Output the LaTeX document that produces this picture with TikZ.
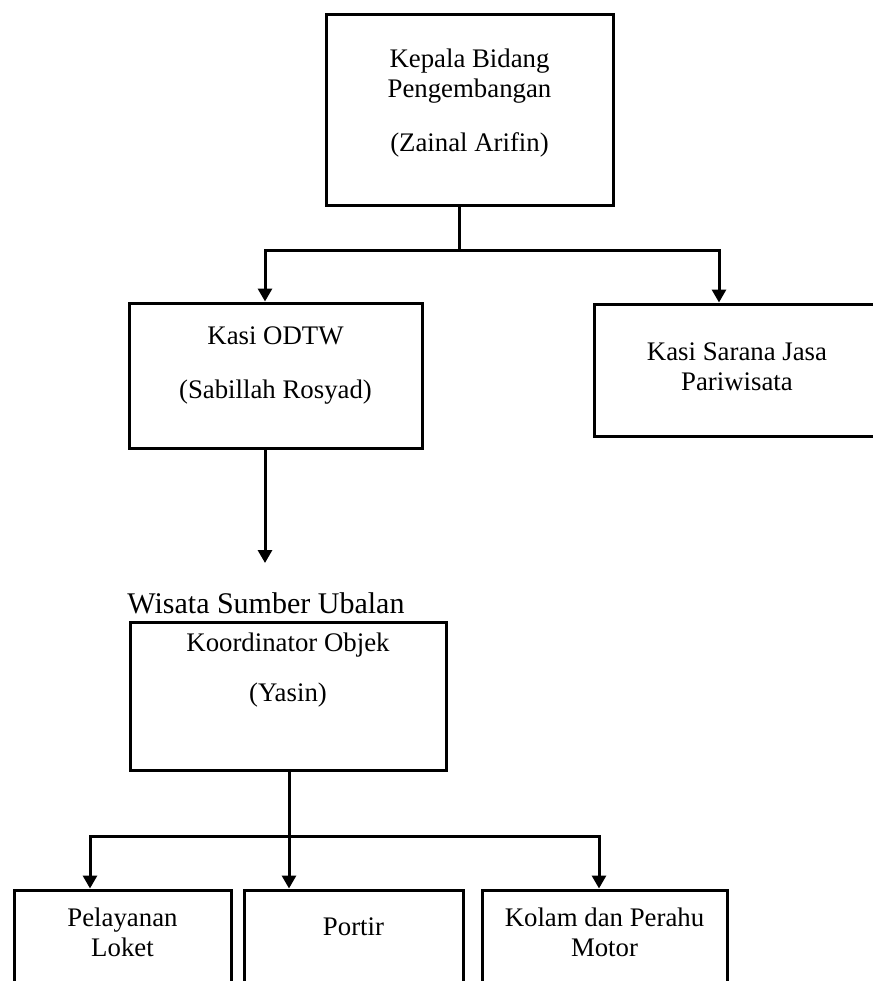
\documentclass[tikz,border=0pt]{standalone}
\usepackage{fontspec}
\setmainfont{Liberation Serif}
\usetikzlibrary{arrows.meta,positioning}

\begin{document}
\begin{tikzpicture}[
    x=0.5pt, y=-0.5pt,
    orgbox/.style={draw, line width=1.5pt, inner sep=0pt},
    boxtext/.style={font=\fontsize{13.4}{15}\selectfont, align=center, inner sep=0pt},
    titletext/.style={font=\fontsize{15}{18}\selectfont, inner sep=0pt, anchor=base},
    arrow/.style={-{Triangle[length=6.5pt,width=7pt]}, line width=1.5pt},
    link/.style={line width=1.5pt},
]
\useasboundingbox (0,0) rectangle (873,981);

% Kepala Bidang
\node[orgbox, minimum width=143.5pt, minimum height=95.5pt] (kepala) at (469.5,109.5) {};
\node[boxtext, below=18pt of kepala.north] (kepalatxt)
    {Kepala Bidang\\Pengembangan\\[12pt](Zainal Arifin)};

% Kasi level
\node[orgbox, minimum width=146.5pt, minimum height=72.5pt] (odtw) at (275.5,375.5) {};
\node[boxtext, below=12.5pt of odtw.north] (odtwtxt)
    {Kasi ODTW\\[12pt](Sabillah Rosyad)};

\node[orgbox, minimum width=143pt, minimum height=66pt] (sarana) at (737,370) {};
\node[boxtext, below=20pt of sarana.north] (saranatxt)
    {Kasi Sarana Jasa\\Pariwisata};

% Objek wisata
\node[titletext] (wisata) at (266,613) {Wisata Sumber Ubalan};

\node[orgbox, minimum width=158pt, minimum height=74pt] (koordinator) at (288,696) {};
\node[boxtext, below=6pt of koordinator.north] (koordinatortxt)
    {Koordinator Objek\\[10pt](Yasin)};

% Petugas
\node[orgbox, minimum width=108.5pt, minimum height=60pt] (loket) at (122.5,950) {};
\node[boxtext, below=9.5pt of loket.north] (lokettxt) {Pelayanan\\Loket};

\node[orgbox, minimum width=109.5pt, minimum height=60pt] (portir) at (353.5,950) {};
\node[boxtext, below=14.5pt of portir.north] (portirtxt) {Portir};

\node[orgbox, minimum width=122.5pt, minimum height=60pt] (kolam) at (604.5,950) {};
\node[boxtext, below=9.5pt of kolam.north] (kolamtxt) {Kolam dan Perahu\\Motor};

% Arrows: kepala -> kasi
\coordinate (kepalaout) at (459,250);
\coordinate (odtwin) at (265,250);
\coordinate (saranain) at (719,250);
\draw[link] (kepala.south -| kepalaout) -- (kepalaout);
\draw[arrow] (kepalaout) -- (odtwin) -- (odtw.north -| odtwin);
\draw[arrow] (kepalaout) -- (saranain) -- (sarana.north -| saranain);

% Arrow: odtw -> wisata
\coordinate (wisatain) at (265,563);
\draw[arrow] (odtw.south -| wisatain) -- (wisatain);

% Arrows: koordinator -> petugas
\coordinate (objekout) at (289,836);
\coordinate (loketin) at (90,836);
\coordinate (kolamin) at (599,836);
\draw[link] (koordinator.south -| objekout) -- (objekout);
\draw[arrow] (objekout) -- (portir.north -| objekout);
\draw[arrow] (objekout) -- (loketin) -- (loket.north -| loketin);
\draw[arrow] (objekout) -- (kolamin) -- (kolam.north -| kolamin);

\end{tikzpicture}
\end{document}
